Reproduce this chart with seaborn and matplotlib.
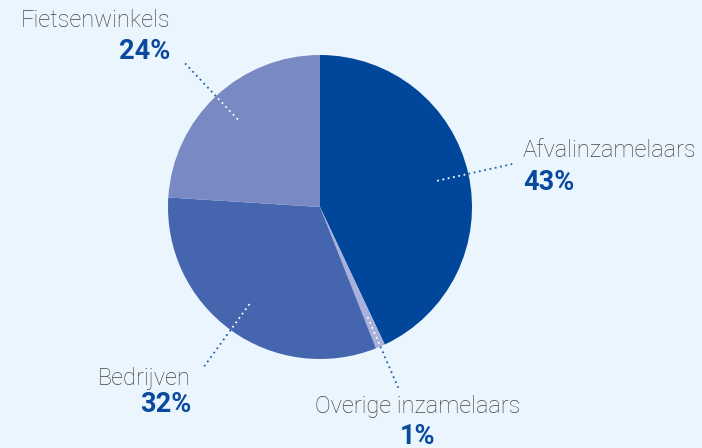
import numpy as np
import matplotlib
matplotlib.use("Agg")
import matplotlib.pyplot as plt
import seaborn as sns

categories = ["Afvalinzamelaars", "Overige inzamelaars", "Bedrijven", "Fietsenwinkels"]
values = [43, 1, 32, 24]
pct_labels = ["43%", "1%", "32%", "24%"]
colors = ["#00469b", "#a9b0da", "#4565ae", "#7889c4"]

BG = "#eaf5fd"
sns.set_style("white")
plt.rcParams["font.family"] = ["Roboto", "DejaVu Sans"]

fig = plt.figure(figsize=(7.02, 4.48), dpi=100, facecolor=BG)
ax = fig.add_axes([0, 0, 1, 1])
ax.set_facecolor(BG)

H = 448
cx, cy, R = 320, H - 207, 152
wedges, _ = ax.pie(values, colors=colors, startangle=90, counterclock=False,
                   center=(cx, cy), radius=R, frame=True,
                   wedgeprops=dict(linewidth=0))
ax.set_xlim(0, 702)
ax.set_ylim(0, H)
ax.set_aspect("equal")
ax.axis("off")

# leader lines
for w in wedges:
    a = np.deg2rad((w.theta1 + w.theta2) / 2)
    r_in, r_out = 120, 197
    ca, sa = np.cos(a), np.sin(a)
    ax.plot([cx + r_in * ca, cx + R * ca], [cy + r_in * sa, cy + R * sa],
            color="white", lw=1.3, ls=(0, (1, 2)))
    ax.plot([cx + R * ca, cx + r_out * ca], [cy + R * sa, cy + r_out * sa],
            color="#1f5fb0", lw=1.3, ls=(0, (1, 2)))

# labels: (x, y_name, y_pct, ha)
label_pos = [(523, 150, 182, "left"), (418, 406, 436, "center"),
             (191, 379, 405, "right"), (170, 20, 51, "right")]
name_color = "#444444"
pct_color = "#0a4a9e"
for cat, pct, (x, yn, yp, ha) in zip(categories, pct_labels, label_pos):
    ax.text(x, H - yn, cat, ha=ha, va="center", fontsize=17, fontweight="light",
            color=name_color)
    ax.text(x, H - yp, pct, ha=ha, va="center", fontsize=19.5, fontweight="bold",
            color=pct_color)

fig.savefig("out.png", dpi=100, facecolor=BG)
